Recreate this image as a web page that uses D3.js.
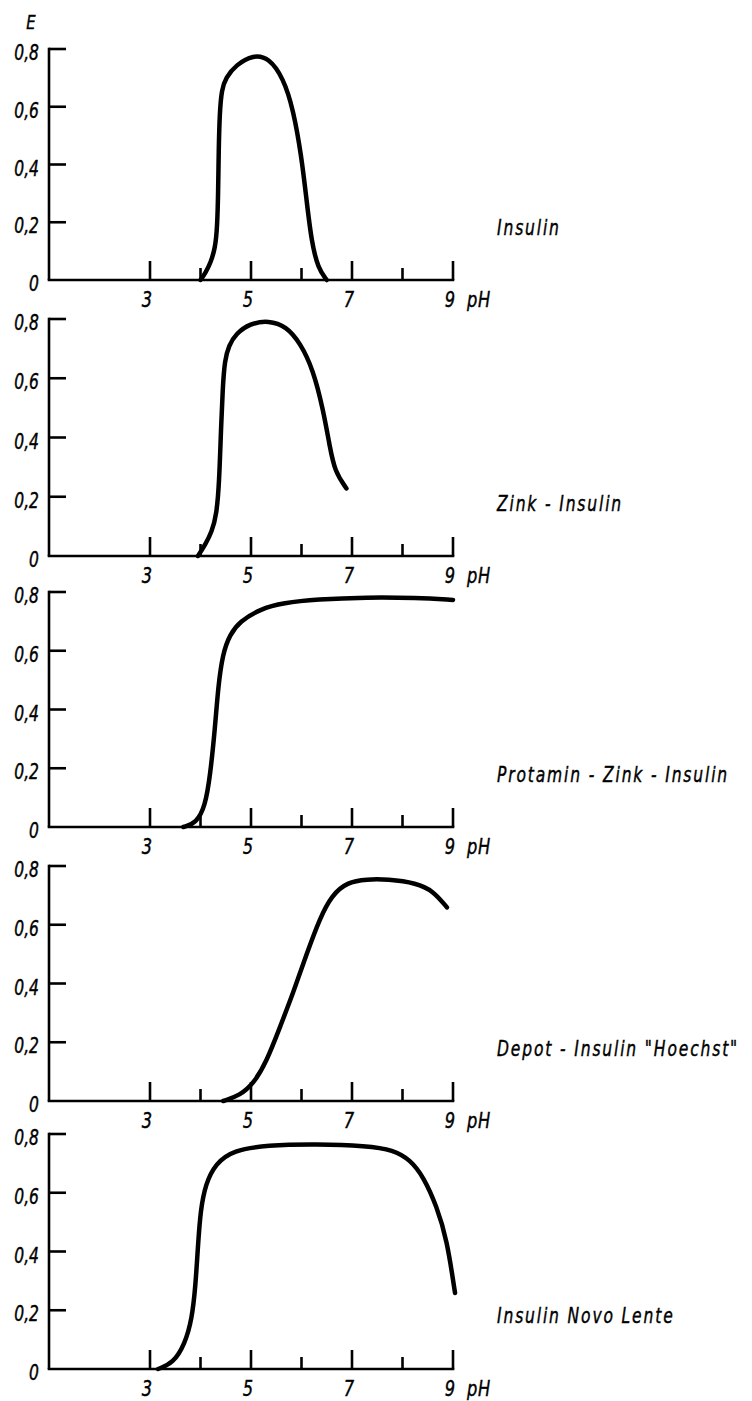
<!DOCTYPE html>
<html>
<head>
<meta charset="utf-8">
<script src="https://cdn.jsdelivr.net/npm/d3@7"></script>
<style>
  body { margin: 0; background: #fff; }
  svg text {
    font-family: "DejaVu Sans", sans-serif;
    font-style: oblique;
    fill: #000;
    stroke: #000;
    stroke-width: 0.45px;
  }
</style>
</head>
<body>
<svg id="chart" width="752" height="1401"></svg>
<script>

// values (pH, extinction E)
const insulinPH = [4.0, 4.1, 4.2, 4.29, 4.33, 4.35, 4.36, 4.38, 4.42, 4.5, 4.7, 5.05, 5.35, 5.64, 5.84, 6.0, 6.1, 6.2, 6.33, 6.5]
const insulinE = [0.0, 0.025, 0.06, 0.11, 0.18, 0.3, 0.45, 0.58, 0.66, 0.7, 0.745, 0.78, 0.77, 0.7, 0.589, 0.427, 0.277, 0.13, 0.04, 0.0]

const zinkPH = [3.95, 4.1, 4.22, 4.32, 4.37, 4.4, 4.44, 4.48, 4.56, 4.7, 4.98, 5.35, 5.7, 5.97, 6.23, 6.43, 6.56, 6.66, 6.89]
const zinkE = [0.0, 0.04, 0.08, 0.14, 0.25, 0.4, 0.57, 0.66, 0.71, 0.75, 0.785, 0.795, 0.775, 0.72, 0.63, 0.493, 0.369, 0.285, 0.228]

const protaminPH = [3.66, 3.92, 4.09, 4.19, 4.29, 4.35, 4.44, 4.58, 4.78, 5.18, 5.64, 6.3, 7.29, 8.28, 9.0]
const protaminE = [0.0, 0.014, 0.07, 0.172, 0.342, 0.478, 0.59, 0.655, 0.7, 0.742, 0.763, 0.775, 0.782, 0.78, 0.773]

const depotPH = [4.45, 4.78, 5.05, 5.31, 5.57, 5.84, 6.1, 6.37, 6.6, 6.9, 7.3, 7.7, 8.28, 8.61, 8.88]
const depotE = [0.0, 0.019, 0.059, 0.135, 0.25, 0.37, 0.5, 0.625, 0.7, 0.745, 0.755, 0.755, 0.742, 0.715, 0.659]

const lentePH = [3.16, 3.46, 3.69, 3.83, 3.9, 3.95, 4.0, 4.1, 4.3, 4.65, 5.31, 6.3, 7.29, 7.82, 8.15, 8.41, 8.68, 8.88, 9.04]
const lenteE = [0.0, 0.02, 0.085, 0.17, 0.28, 0.42, 0.54, 0.63, 0.7, 0.745, 0.762, 0.766, 0.76, 0.746, 0.712, 0.656, 0.553, 0.44, 0.259]

const panelNames = ["Insulin", "Zink - Insulin", "Protamin - Zink - Insulin", "Depot - Insulin \"Hoechst\"", "Insulin Novo Lente"]
const panelPH = [insulinPH, zinkPH, protaminPH, depotPH, lentePH]
const panelE = [insulinE, zinkE, protaminE, depotE, lenteE]

const yTicks = [0, 0.2, 0.4, 0.6, 0.8]
const yTickLabels = ["0", "0,2", "0,4", "0,6", "0,8"]
const xMajor = [3, 5, 7, 9]
const xMinor = [4, 6, 8]

// layout: y pixel of E = 0.8 and E = 0 for each panel
const panelTop = [49, 319, 592, 866, 1134]
const panelZero = [280, 556, 827, 1101, 1369]

// narrow lettering like the print: squeeze the glyphs sideways
const squeeze = 0.74

const svg = d3.select("#chart")

function addText(parent, tx, ty, str, opts = {}) {
  return parent.append("text")
  .attr("transform", `translate(${tx},${ty}) scale(${squeeze},1)`)
  .attr("text-anchor", opts.anchor || "start")
  .style("font-size", (opts.size || 21) + "px")
  .style("letter-spacing", (opts.spacing || 0) + "px")
  .text(str)
}

const x = d3.scaleLinear()
.domain([1, 9])
.range([49, 453])

addText(svg, 31, 29, "E", {anchor: "middle", size: 20})

panelNames.forEach((name, i) => {

  const y = d3.scaleLinear()
  .domain([0, 0.8])
  .range([panelZero[i], panelTop[i]])

  const g = svg.append("g")

  const axes = g.append("g")
  .attr("stroke", "#000")
  .attr("stroke-width", 2.6)
  .attr("fill", "none")

  // y axis with ticks pointing right
  axes.append("line")
  .attr("x1", x(1))
  .attr("x2", x(1))
  .attr("y1", y(0))
  .attr("y2", y(0.8) - 1.3)

  axes.selectAll(".ytick")
  .data(yTicks.filter((d) => d > 0))
  .join("line")
  .attr("x1", x(1))
  .attr("x2", x(1) + 17)
  .attr("y1", (d) => y(d))
  .attr("y2", (d) => y(d))

  // x axis with ticks pointing up
  axes.append("line")
  .attr("x1", x(1) - 1.3)
  .attr("x2", x(9) + 1.3)
  .attr("y1", y(0))
  .attr("y2", y(0))

  axes.selectAll(".xmajor")
  .data(xMajor)
  .join("line")
  .attr("x1", (d) => x(d))
  .attr("x2", (d) => x(d))
  .attr("y1", y(0))
  .attr("y2", y(0) - 19)

  axes.selectAll(".xminor")
  .data(xMinor)
  .join("line")
  .attr("x1", (d) => x(d))
  .attr("x2", (d) => x(d))
  .attr("y1", y(0))
  .attr("y2", y(0) - 12)

  yTicks.forEach((d, j) => {
    addText(g, 39, y(d) + 11, yTickLabels[j], {anchor: "end"})
  })

  xMajor.forEach((d) => {
    addText(g, x(d) - 3, y(0) + 27, d, {anchor: "middle", size: 22})
  })

  addText(g, 467, y(0) + 27, "pH", {size: 22, spacing: 1})

  const line = d3.line()
  .x((d) => x(d[0]))
  .y((d) => y(d[1]))
  .curve(d3.curveBasis)

  const pts = panelPH[i].map((p, j) => [p, panelE[i][j]])

  g.append("path")
  .attr("d", line(pts))
  .attr("fill", "none")
  .attr("stroke", "#000")
  .attr("stroke-width", 4.5)
  .attr("stroke-linecap", "round")

  addText(g, 497, i === 4 ? y(0) - 46 : y(0) - 45, name, {spacing: 2.5})

})

</script>
</body>
</html>
